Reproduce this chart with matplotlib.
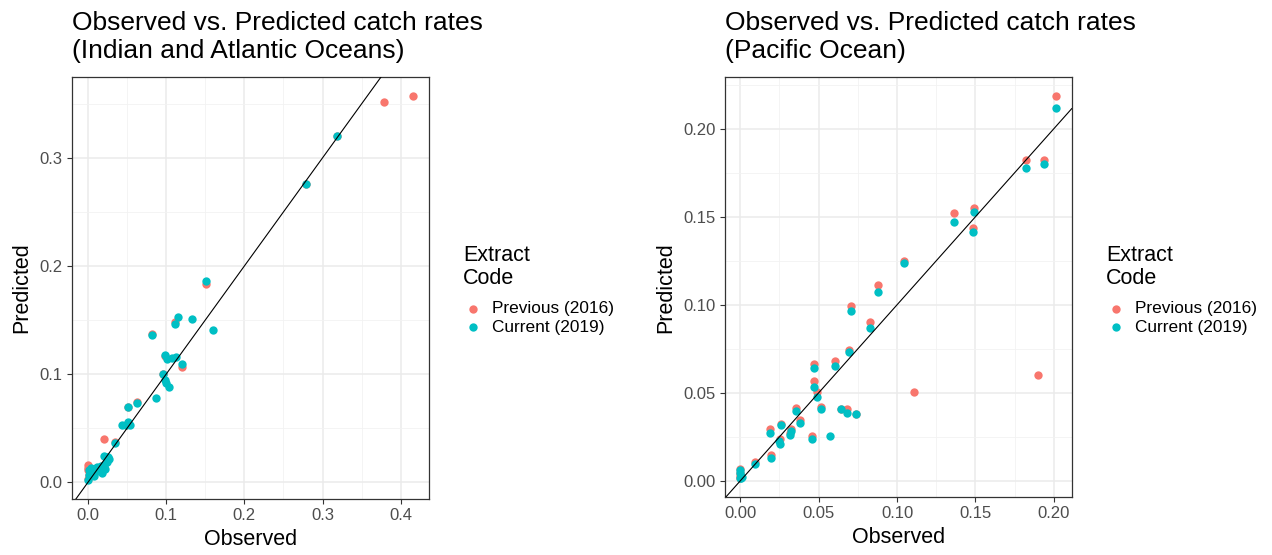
import numpy as np
import matplotlib
matplotlib.use("Agg")
import matplotlib.pyplot as plt
from matplotlib.ticker import MultipleLocator

plt.rcParams['font.family'] = ['Liberation Sans', 'DejaVu Sans']

# Indian and Atlantic Oceans
ia_prev_x = [0.3783, 0.4157, 0.3183, 0.2787, 0.1515, 0.1111, 0.0813, 0.1200, 0.0626,
             0.0209, 0.0349, 0.0000, 0.0000, 0.0000, 0.0050, 0.0100, 0.0204, 0.0226,
             0.0991, 0.0962, 0.0515, 0.0485, 0.0007, 0.0000]
ia_prev_y = [0.3520, 0.3570, 0.3203, 0.2760, 0.1834, 0.1480, 0.1375, 0.1068, 0.0745,
             0.0400, 0.0370, 0.0160, 0.0130, 0.0110, 0.0120, 0.0130, 0.0160, 0.0235,
             0.1170, 0.1000, 0.0700, 0.0530, 0.0067, 0.0030]
ia_curr_x = [0.3183, 0.2787, 0.1515, 0.1149, 0.1111, 0.1332, 0.1604, 0.0813, 0.0991,
             0.1013, 0.1070, 0.1120, 0.1200, 0.0962, 0.0983, 0.1004, 0.1038, 0.0868,
             0.0626, 0.0515, 0.0434, 0.0485, 0.0532, 0.0510, 0.0349, 0.0204, 0.0260,
             0.0226, 0.0268, 0.0247, 0.0204, 0.0162, 0.0120, 0.0077, 0.0034, 0.0007,
             0.0000, 0.0077, 0.0180, 0.0010, 0.0040, 0.0120, 0.0220, 0.0150]
ia_curr_y = [0.3203, 0.2760, 0.1865, 0.1532, 0.1462, 0.1514, 0.1406, 0.1360, 0.1175,
             0.1142, 0.1148, 0.1154, 0.1090, 0.1000, 0.0945, 0.0914, 0.0877, 0.0782,
             0.0735, 0.0698, 0.0526, 0.0526, 0.0529, 0.0557, 0.0360, 0.0243, 0.0237,
             0.0235, 0.0220, 0.0188, 0.0160, 0.0150, 0.0137, 0.0113, 0.0098, 0.0067,
             0.0023, 0.0055, 0.0085, 0.0110, 0.0130, 0.0100, 0.0120, 0.0120]

# Pacific Ocean
pa_prev_x = [0.2013, 0.1820, 0.1940, 0.1898, 0.1108, 0.1363, 0.1490, 0.1486, 0.1047,
             0.0879, 0.0828, 0.0707, 0.0692, 0.0603, 0.0467, 0.0471, 0.0488, 0.0512,
             0.0641, 0.0679, 0.0735, 0.0459, 0.0357, 0.0380, 0.0261, 0.0191, 0.0255,
             0.0323, 0.0314, 0.0197, 0.0091, 0.0000, 0.0000, 0.0000, 0.0000]
pa_prev_y = [0.2185, 0.1824, 0.1820, 0.0602, 0.0507, 0.1523, 0.1550, 0.1436, 0.1251,
             0.1110, 0.0904, 0.0995, 0.0745, 0.0679, 0.0662, 0.0566, 0.0505, 0.0420,
             0.0410, 0.0410, 0.0378, 0.0254, 0.0414, 0.0346, 0.0325, 0.0293, 0.0238,
             0.0297, 0.0270, 0.0146, 0.0108, 0.0066, 0.0044, 0.0025, 0.0015]
pa_curr_x = [0.2013, 0.1820, 0.1940, 0.1363, 0.1490, 0.1486, 0.1047, 0.0879, 0.0828,
             0.0707, 0.0692, 0.0603, 0.0467, 0.0471, 0.0488, 0.0512, 0.0641, 0.0679,
             0.0735, 0.0575, 0.0459, 0.0357, 0.0380, 0.0261, 0.0191, 0.0255, 0.0250,
             0.0323, 0.0314, 0.0197, 0.0091, 0.0000, 0.0000, 0.0010, 0.0000, 0.0005]
pa_curr_y = [0.2119, 0.1779, 0.1800, 0.1472, 0.1529, 0.1415, 0.1236, 0.1071, 0.0870,
             0.0967, 0.0732, 0.0651, 0.0643, 0.0534, 0.0477, 0.0409, 0.0409, 0.0388,
             0.0378, 0.0252, 0.0237, 0.0399, 0.0331, 0.0316, 0.0271, 0.0212, 0.0225,
             0.0282, 0.0259, 0.0132, 0.0098, 0.0064, 0.0042, 0.0023, 0.0015, 0.0015]

labels = ['Previous (2016)', 'Current (2019)']
colors = ['#F8766D', '#00BFC4']

W, H = 1272, 555
fig = plt.figure(figsize=(W / 100, H / 100), dpi=100)


def px_axes(l, t, r, b):
    return fig.add_axes([l / W, 1 - b / H, (r - l) / W, (b - t) / H])


def expand(vals):
    lo, hi = min(vals), max(vals)
    pad = 0.05 * (hi - lo)
    return lo - pad, hi + pad


def panel(ax, px, py, cx, cy, title, major, minor, fmt, title_x, leg_x):
    ax.set_facecolor('white')
    ax.scatter(px, py, s=36, color=colors[0], label=labels[0], zorder=3, linewidths=0)
    ax.scatter(cx, cy, s=36, color=colors[1], label=labels[1], zorder=4, linewidths=0)
    ax.axline((0, 0), slope=1, color='black', lw=0.8, zorder=5)
    ax.set_xlim(expand(px + cx))
    ax.set_ylim(expand(py + cy))
    ax.xaxis.set_major_locator(MultipleLocator(major[0]))
    ax.yaxis.set_major_locator(MultipleLocator(major[1]))
    ax.xaxis.set_minor_locator(MultipleLocator(minor[0]))
    ax.yaxis.set_minor_locator(MultipleLocator(minor[1]))
    ax.xaxis.set_major_formatter(fmt[0])
    ax.yaxis.set_major_formatter(fmt[1])
    ax.grid(which='major', color='#EBEBEB', lw=1.1, zorder=0)
    ax.grid(which='minor', color='#F2F2F2', lw=0.6, zorder=0)
    ax.set_axisbelow(True)
    ax.tick_params(which='major', length=3.5, width=0.8, color='#333333',
                   labelsize=12, labelcolor='#4D4D4D', pad=3)
    ax.tick_params(which='minor', length=0)
    for s in ax.spines.values():
        s.set_color('#333333')
        s.set_linewidth(0.9)
    ax.set_xlabel('Observed', fontsize=15.5, labelpad=4)
    ax.set_ylabel('Predicted', fontsize=15.5, labelpad=5)
    fig.text(title_x / W, 1 - 11 / H, title, fontsize=19, va='top', ha='left',
             linespacing=1.2)
    # legend title and entries
    fig.text(leg_x / W, 1 - 245 / H, 'Extract\nCode', fontsize=15.5,
             va='top', ha='left', linespacing=1.15)
    ax.legend(loc='upper left', bbox_to_anchor=(leg_x / W, 1 - 301 / H),
              bbox_transform=fig.transFigure, frameon=False,
              fontsize=12.4, handletextpad=0.55, handlelength=1.15,
              labelspacing=0.22, borderaxespad=0, borderpad=0)


ax1 = px_axes(71.7, 77, 429.3, 499)
panel(ax1, ia_prev_x, ia_prev_y, ia_curr_x, ia_curr_y,
      'Observed vs. Predicted catch rates\n(Indian and Atlantic Oceans)',
      (0.1, 0.1), (0.05, 0.05), ('{x:.1f}', '{x:.1f}'), 72, 463)

ax2 = px_axes(724.5, 77, 1071.7, 497.3)
panel(ax2, pa_prev_x, pa_prev_y, pa_curr_x, pa_curr_y,
      'Observed vs. Predicted catch rates\n(Pacific Ocean)',
      (0.05, 0.05), (0.025, 0.025), ('{x:.2f}', '{x:.2f}'), 725, 1106)

fig.savefig('out.png', dpi=100, facecolor='white')
